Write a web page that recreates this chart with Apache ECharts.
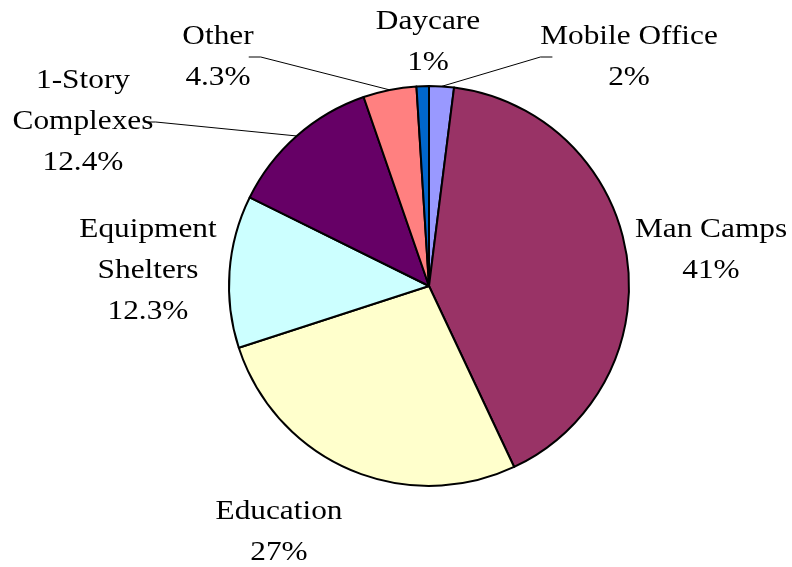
<!DOCTYPE html>
<html>
<head>
<meta charset="utf-8">
<script src="https://cdn.jsdelivr.net/npm/echarts@6/dist/echarts.min.js"></script>
<style>
html,body{margin:0;padding:0;background:#fff;}
#chart{width:792px;height:567px;}
</style>
</head>
<body>
<div id="chart"></div>
<script>
// Data (clockwise from 12 o'clock)
var categories = ['Mobile Office', 'Man Camps', 'Education', 'Equipment\nShelters', '1-Story\nComplexes', 'Other', 'Daycare'];
var values = [2, 41, 27, 12.3, 12.4, 4.3, 1];
var valueLabels = ['2%', '41%', '27%', '12.3%', '12.4%', '4.3%', '1%'];
var colors = ['#9999FF', '#993366', '#FFFFCC', '#CCFFFF', '#660066', '#FF8080', '#0066CC'];
var showLeader = [true, false, false, false, true, true, false];

// Label block centres (layout, not data)
var labelPos = [[629, 57], [711, 250], [279, 532], [148, 271], [83, 122], [218, 57], [428, 42]];
var textStretch = 1.16;

var chart = echarts.init(document.getElementById('chart'), null, {renderer: 'canvas'});
var data = categories.map(function (c, i) {
  return {
    name: c,
    value: values[i],
    itemStyle: {color: colors[i]},
    labelLine: {show: showLeader[i]}
  };
});
chart.setOption({
  animation: false,
  backgroundColor: '#ffffff',
  series: [{
    type: 'pie',
    center: [429, 286],
    radius: 200,
    startAngle: 90,
    clockwise: true,
    avoidLabelOverlap: false,
    itemStyle: {borderColor: '#000', borderWidth: 2},
    label: {
      show: true,
      position: 'outside',
      color: '#000',
      fontFamily: 'Liberation Serif',
      fontSize: 27,
      lineHeight: 41,
      align: 'center',
      formatter: function (p) { return p.name + '\n' + valueLabels[p.dataIndex]; }
    },
    labelLine: {
      lineStyle: {color: '#000', width: 1},
      length: 20,
      length2: 12
    },
    labelLayout: function (p) {
      var pos = labelPos[p.dataIndex];
      return {x: pos[0], y: pos[1], align: 'center', verticalAlign: 'middle'};
    },
    data: data
  }]
});
// Stretch label text horizontally to match the reference's wide serif glyphs
try {
  var sData = chart.getModel().getSeriesByIndex(0).getData();
  for (var i = 0; i < sData.count(); i++) {
    var el = sData.getItemGraphicEl(i);
    var t = el && el.getTextContent && el.getTextContent();
    if (t) { t.scaleX = textStretch; t.markRedraw(); }
  }
  chart.getZr().refreshImmediately();
} catch (e) {}
</script>
</body>
</html>
